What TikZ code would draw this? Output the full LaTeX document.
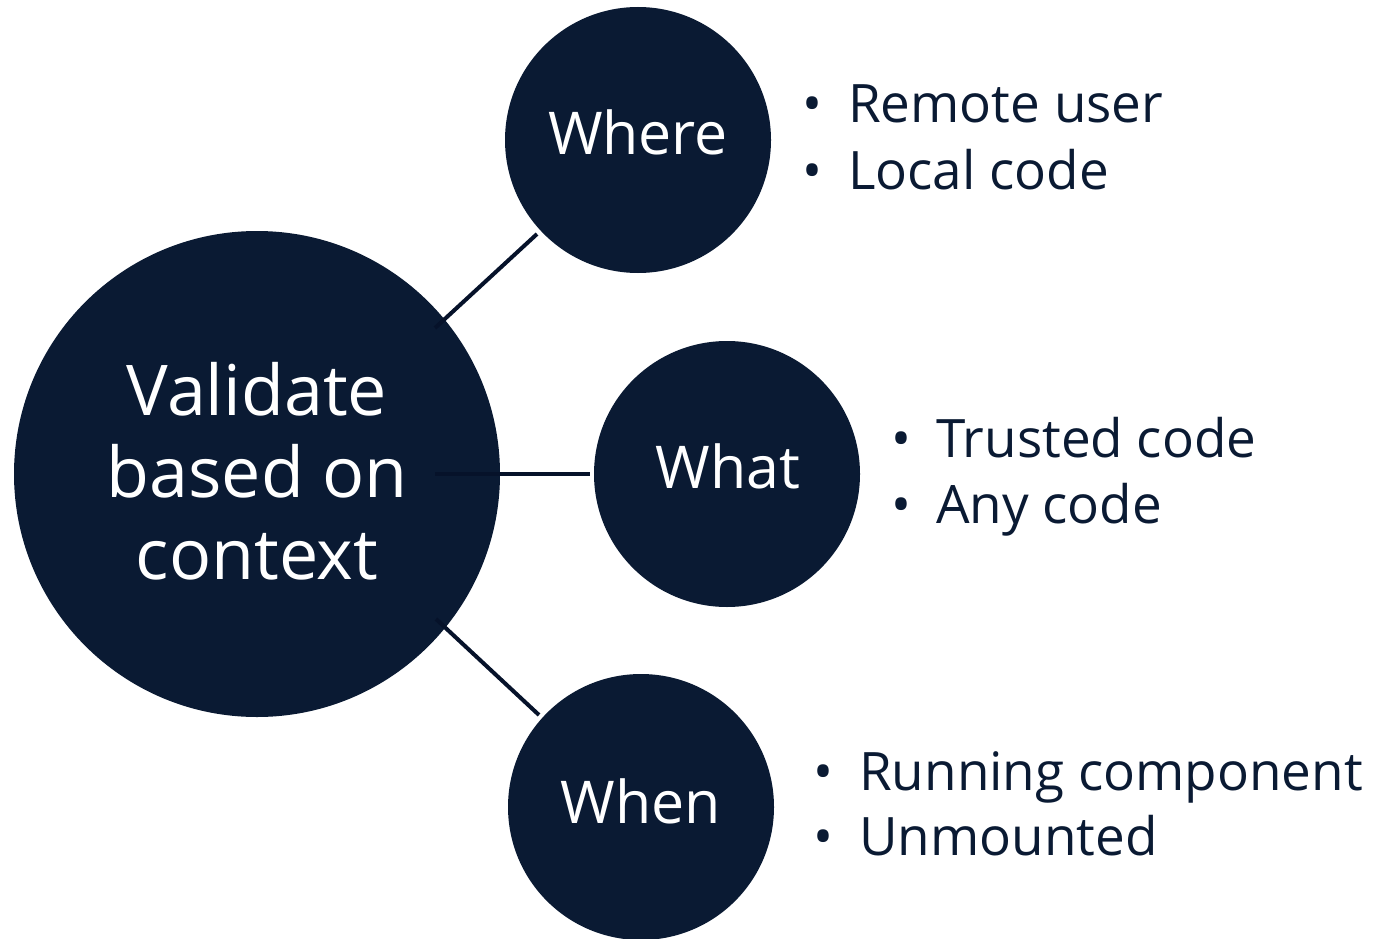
\documentclass[tikz,border=0pt]{standalone}
\usepackage{fontspec}
\usetikzlibrary{calc}
\setmainfont{Open Sans}
\definecolor{navy}{HTML}{0A1A33}
\definecolor{linkline}{HTML}{06122A}
\tikzset{
  bigdisc/.style={circle, fill=navy, draw=none, inner sep=0pt, minimum size=486pt},
  disc/.style={circle, fill=navy, draw=none, inner sep=0pt, minimum size=266pt},
  disclabel/.style={text=white, inner sep=0pt, anchor=base, font=\fontsize{59}{66}\selectfont},
  bigtext/.style={text=white, inner sep=0pt, align=center, font=\fontsize{70}{82}\selectfont},
  dotmark/.style={text=navy, inner sep=0pt, anchor=base, font=\fontsize{53}{60}\selectfont},
  itemtext/.style={text=navy, inner sep=0pt, anchor=base west, font=\fontsize{53}{60}\selectfont},
  link/.style={draw=linkline, line width=4pt}
}
\begin{document}
\begin{tikzpicture}[x=1pt,y=-1pt]
\useasboundingbox (0,0) rectangle (1376,939);

% discs
\node[bigdisc] (big) at (257,474) {};
\node[disc] (where) at (638,140) {};
\node[disc] (what) at (727,474) {};
\node[disc] (when) at (641,807) {};

% connectors, starting a little inside the central disc
\draw[link] ($(big.center)+(178,-146)$) -- ($(where.center)+(-101,94)$);
\draw[link, shorten <=-65pt, shorten >=4pt] (big) -- (what);
\draw[link] ($(big.center)+(179,145)$) -- ($(when.center)+(-102,-92)$);

% disc labels
\node[bigtext] (bigtxt) at (257,471) {Validate\\based on\\context};
\node[disclabel] (wheretxt) at (638,155) {Where};
\node[disclabel] (whattxt) at (728,488) {What};
\node[disclabel] (whentxt) at (641,823) {When};

% bullet lists
\node[dotmark] (b1) at (812,123) {•};
\node[itemtext] (t1) at (848,123) {Remote user};
\node[dotmark] (b2) at (812,189) {•};
\node[itemtext] (t2) at (848,189) {Local code};

\node[dotmark] (b3) at (901,457) {•};
\node[itemtext] (t3) at (936,457) {Trusted code};
\node[dotmark] (b4) at (901,523) {•};
\node[itemtext] (t4) at (936,523) {Any code};

\node[dotmark] (b5) at (823,790) {•};
\node[itemtext] (t5) at (859,790) {Running component};
\node[dotmark] (b6) at (823,855) {•};
\node[itemtext] (t6) at (859,855) {Unmounted};
\end{tikzpicture}
\end{document}
